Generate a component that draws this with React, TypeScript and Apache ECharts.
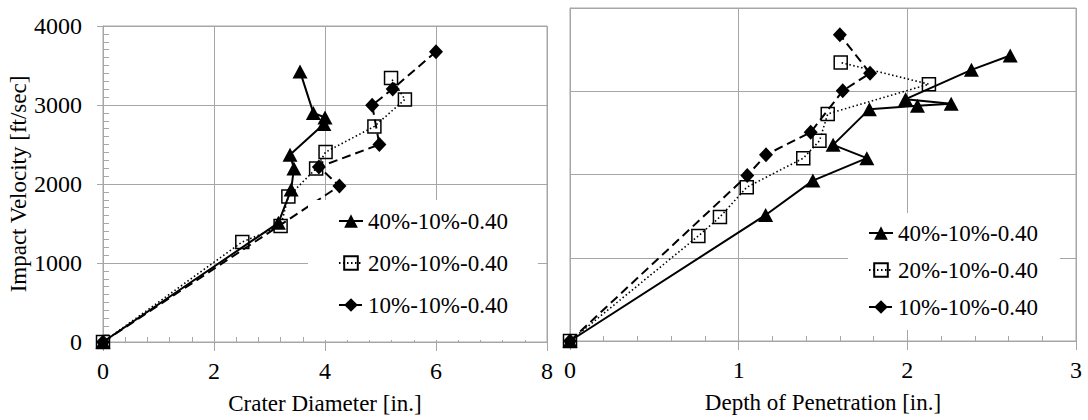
import React, { useEffect, useRef } from "react";
import * as echarts from "echarts";

const FONT = "Liberation Serif";
const GRAY = "#a6a6a6";

const seriesNames = ["40%-10%-0.40", "20%-10%-0.40", "10%-10%-0.40"];

// Left chart: [crater diameter (in.), impact velocity (ft/sec)]
const crater40: number[][] = [
  [0, 0], [3.16, 1508], [3.39, 1930], [3.44, 2196], [3.37, 2371],
  [3.98, 2760], [4.0, 2842], [3.79, 2900], [3.55, 3425],
];
const crater20: number[][] = [
  [0, 0], [2.51, 1267], [3.2, 1467], [3.34, 1842], [3.84, 2196],
  [4.01, 2404], [4.89, 2729], [5.44, 3071], [5.19, 3342],
];
const crater10: number[][] = [
  [0, 0], [4.26, 1975], [3.89, 2215], [4.98, 2500], [4.85, 2998],
  [5.22, 3204], [6.0, 3675],
];

// Right chart: [depth of penetration (in.), impact velocity (ft/sec)]
const depth40: number[][] = [
  [0, 0], [1.16, 1514], [1.44, 1927], [1.76, 2196], [1.56, 2356],
  [1.775, 2785], [2.06, 2825], [2.26, 2850], [1.99, 2905],
  [2.38, 3257], [2.61, 3430],
];
const depth20: number[][] = [
  [0, 0], [0.761, 1262], [0.889, 1490], [1.048, 1847], [1.383, 2196],
  [1.479, 2404], [1.528, 2728], [2.128, 3085], [1.605, 3345],
];
const depth10: number[][] = [
  [0, 0], [1.051, 1987], [1.162, 2236], [1.427, 2508], [1.617, 3005],
  [1.779, 3217], [1.6, 3678],
];

const leftXTicks = { min: 0, max: 8, interval: 2 };
const rightXTicks = { min: 0, max: 3, interval: 1 };
const yTicks = { min: 0, max: 4000, interval: 1000 };

const styles = [
  {
    symbol: "triangle",
    symbolSize: [15, 14],
    lineStyle: { color: "#000", width: 2, type: "solid" as any },
    itemStyle: { color: "#000", borderColor: "#000", borderWidth: 0 },
  },
  {
    symbol: "rect",
    symbolSize: 13,
    lineStyle: { color: "#000", width: 1.6, type: [1.5, 2.5] as any },
    itemStyle: { color: "rgba(255,255,255,0)", borderColor: "#000", borderWidth: 1.5 },
  },
  {
    symbol: "diamond",
    symbolSize: [14, 15],
    lineStyle: { color: "#000", width: 2, type: [9, 5] as any },
    itemStyle: { color: "#000", borderColor: "#000", borderWidth: 0 },
  },
];

function mkSeries(name: string, data: number[][], idx: number, g: number) {
  const s = styles[idx];
  return {
    type: "line",
    name,
    data,
    xAxisIndex: g,
    yAxisIndex: g,
    symbol: s.symbol,
    symbolSize: s.symbolSize,
    showAllSymbol: true,
    lineStyle: s.lineStyle,
    itemStyle: s.itemStyle,
    z: 2 + (2 - idx) * 0.1,
    emphasis: { disabled: true },
  };
}

const TICK_FS = 24;
const NAME_FS = 23;
const LEG_FS = 23;

const fmt = (v: number) => String(v);

function xAxisDef(g: number, ticks: any, name: string) {
  return {
    type: "value",
    gridIndex: g,
    ...ticks,
    name,
    nameLocation: "middle",
    nameGap: 50,
    nameTextStyle: { fontFamily: FONT, fontSize: NAME_FS, color: "#000" },
    axisLine: { show: true, onZero: false, lineStyle: { color: GRAY, width: 1 } },
    axisTick: { show: true, length: 9, lineStyle: { color: GRAY } },
    minorTick: { show: true, splitNumber: 5, length: -5, lineStyle: { color: GRAY } },
    splitLine: { show: true, lineStyle: { color: GRAY, width: 1 } },
    axisLabel: {
      show: true,
      fontFamily: FONT,
      fontSize: TICK_FS,
      color: "#000",
      margin: 17,
      formatter: fmt,
    },
  };
}

const legendText = {
  fontFamily: FONT,
  fontSize: LEG_FS,
  color: "#000",
  lineHeight: 24,
};

export default function App() {
  const ref = useRef<HTMLDivElement>(null);
  useEffect(() => {
    if (!ref.current) return;
    const chart = echarts.init(ref.current, undefined, { renderer: "svg" });
    const option: any = {
      animation: false,
      backgroundColor: "#fff",
      textStyle: { fontFamily: FONT, fontSize: TICK_FS, color: "#000" },
      grid: [
        { left: 103, top: 26, width: 444, height: 320, show: true, borderColor: GRAY, borderWidth: 1 },
        { left: 570, top: 8, width: 506, height: 333, show: true, borderColor: GRAY, borderWidth: 1 },
      ],
      xAxis: [
        xAxisDef(0, leftXTicks, "Crater Diameter [in.]"),
        xAxisDef(1, rightXTicks, "Depth of Penetration [in.]"),
      ],
      yAxis: [
        {
          type: "value",
          gridIndex: 0,
          ...yTicks,
          name: "Impact Velocity [ft/sec]",
          nameLocation: "middle",
          nameGap: 68,
          nameTextStyle: { fontFamily: FONT, fontSize: NAME_FS, color: "#000" },
          axisLine: { show: true, lineStyle: { color: GRAY, width: 1 } },
          axisTick: { show: true, length: 6, lineStyle: { color: GRAY } },
          minorTick: { show: true, splitNumber: 10, length: -6, lineStyle: { color: GRAY } },
          splitLine: { show: true, lineStyle: { color: GRAY, width: 1 } },
          axisLabel: {
            show: true,
            fontFamily: FONT,
            fontSize: TICK_FS,
            color: "#000",
            margin: 21,
            formatter: fmt,
          },
        },
        {
          type: "value",
          gridIndex: 1,
          ...yTicks,
          axisLine: { show: true, lineStyle: { color: GRAY, width: 1 } },
          axisTick: { show: false },
          splitLine: { show: true, lineStyle: { color: GRAY, width: 1 } },
          axisLabel: { show: false },
        },
      ],
      legend: [
        {
          orient: "vertical",
          left: 308,
          top: 200,
          padding: [9, 30, 23, 30],
          itemGap: 18,
          itemWidth: 24,
          itemHeight: 17,
          backgroundColor: "#fff",
          data: seriesNames,
          textStyle: legendText,
          selectedMode: false,
        },
        {
          orient: "vertical",
          left: 848,
          top: 213,
          padding: [8, 22, 11, 20],
          itemGap: 13,
          itemWidth: 24,
          itemHeight: 17,
          backgroundColor: "#fff",
          data: seriesNames,
          textStyle: legendText,
          selectedMode: false,
        },
      ],
      series: [
        mkSeries(seriesNames[0], crater40, 0, 0),
        mkSeries(seriesNames[1], crater20, 1, 0),
        mkSeries(seriesNames[2], crater10, 2, 0),
        mkSeries(seriesNames[0], depth40, 0, 1),
        mkSeries(seriesNames[1], depth20, 1, 1),
        mkSeries(seriesNames[2], depth10, 2, 1),
      ],
    };
    chart.setOption(option);
    return () => chart.dispose();
  }, []);
  return (
    <div
      ref={ref}
      style={{ position: "fixed", left: 0, top: 0, width: 1088, height: 420, background: "#fff" }}
    />
  );
}
